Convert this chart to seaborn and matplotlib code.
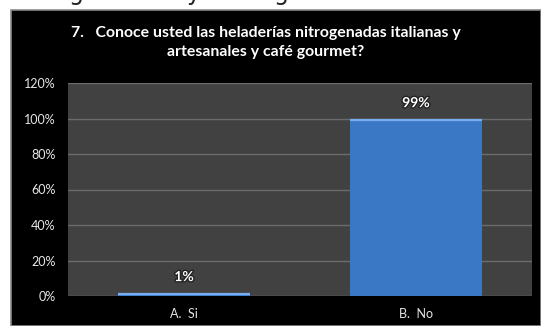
import matplotlib
matplotlib.use("Agg")
import matplotlib.pyplot as plt
import matplotlib.patheffects as pe
from matplotlib.patches import Rectangle
from matplotlib.ticker import FuncFormatter
import seaborn as sns
import pandas as pd

# Survey question 7 results
categories = ["A.  Si", "B.  No"]
values = [0.01, 0.99]
value_labels = ["1%", "99%"]
title_lines = ["7.   Conoce usted las heladerías nitrogenadas italianas y",
               "artesanales y café gourmet?"]

df = pd.DataFrame({"respuesta": categories, "porcentaje": values})

sns.set_theme(style="dark")
plt.rcParams["font.family"] = ["Lato", "DejaVu Sans"]

W, H = 541, 326
fig = plt.figure(figsize=(W / 100, H / 100), dpi=100)
fig.patch.set_facecolor("white")

# black chart frame below the page text
frame = Rectangle((11 / W, 0), 1 - 11 / W, (H - 10) / H, transform=fig.transFigure,
                  facecolor="black", edgecolor="#8a8a8a", linewidth=1.2, zorder=-5)
fig.patches.append(frame)

# descenders of the preceding document line
for ch, xp in [("g", 76), ("y", 193), ("g", 281)]:
    fig.text(xp / W, 1.0, ch, fontsize=17, color="#222222", ha="center",
             va="baseline", family="DejaVu Sans", zorder=-4)

for i, line in enumerate(title_lines):
    fig.text(266 / W, 1 - (33 + i * 19) / H, line, color="white", fontsize=11.4,
             fontweight="bold", ha="center", va="center")

ax = fig.add_axes([68 / W, (H - 296) / H, (532 - 68) / W, (296 - 83) / H])
ax.set_zorder(2)
ax.set_facecolor("#414141")

sns.barplot(data=df, x="respuesta", y="porcentaje", ax=ax, color="#3a78c6",
            width=0.57, saturation=1, edgecolor="none", zorder=3)

# lighter highlight along the top of each bar
for patch in ax.patches:
    x0, w, h = patch.get_x(), patch.get_width(), patch.get_height()
    ax.plot([x0, x0 + w], [h, h], color="#78aef0", lw=1.6, zorder=4,
            solid_capstyle="butt")

ax.set_xlim(-0.5, len(categories) - 0.5)
ax.set_ylim(0, 1.2)
ax.set_yticks([0, 0.2, 0.4, 0.6, 0.8, 1.0, 1.2])
ax.yaxis.set_major_formatter(FuncFormatter(lambda v, _: f"{v * 100:.0f}%"))
ax.grid(axis="y", color="#6b6b6b", linewidth=1.0, zorder=1)
ax.grid(axis="x", visible=False)
ax.set_axisbelow(True)
ax.set_xlabel("")
ax.set_ylabel("")
for s in ax.spines.values():
    s.set_visible(False)
ax.tick_params(axis="both", colors="#e6e6e6", labelsize=9, length=0)
ax.tick_params(axis="y", pad=9)
ax.tick_params(axis="x", pad=9)
for lbl in ax.get_xticklabels() + ax.get_yticklabels():
    lbl.set_color("#e6e6e6")

for i, (v, t) in enumerate(zip(values, value_labels)):
    ax.annotate(t, (i, v), xytext=(0, 8), textcoords="offset points",
                ha="center", va="bottom", color="white", fontsize=10,
                fontweight="bold",
                path_effects=[pe.withStroke(linewidth=2, foreground="#222222")])

fig.savefig("out.png", dpi=100)
